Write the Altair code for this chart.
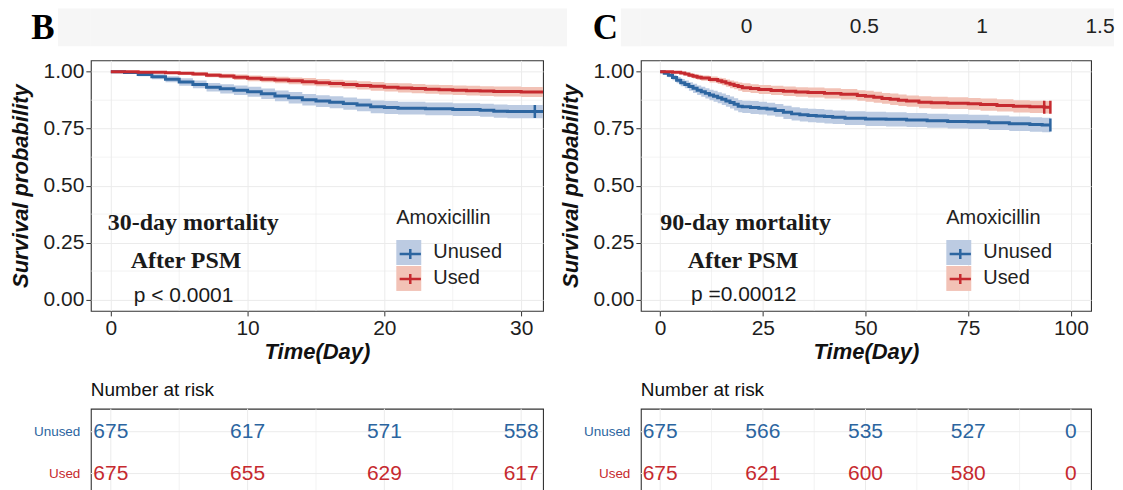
import altair as alt
import pandas as pd

SANS = "Liberation Sans"
SERIF = "Liberation Serif"
GRID = "#ebebeb"
BORDER = "#333333"
STRIP = "#f6f6f6"
TXT = "#1e1e1e"

# ---------------- data ----------------
groups = ["Unused", "Used"]
line_colors = ["#2c65a0", "#c62a2f"]
band_colors = ["#bccbe2", "#f2c2b6"]
panel_letters = ["B", "C"]
strip_tick_values = [0, 0.5, 1, 1.5]
strip_tick_labels = ["0", "0.5", "1", "1.5"]
surv_ticks = [0, 0.25, 0.5, 0.75, 1.0]
surv_minor = [0.125, 0.375, 0.625, 0.875]

# Panel B : 30-day mortality
b_time_ticks = [0, 10, 20, 30]
b_time_minor = [5, 15, 25]
b_unused_time = [0, 1, 2, 3, 4, 5, 6, 7, 8, 9, 10, 11, 12, 13, 14, 15, 16, 17, 18, 19,
                 20, 21, 23, 25, 27, 28, 29, 31.6]
b_unused_surv = [1.000, 0.997, 0.988, 0.978, 0.967, 0.955, 0.944, 0.932, 0.925, 0.919,
                 0.912, 0.903, 0.894, 0.886, 0.877, 0.871, 0.866, 0.860, 0.854, 0.846,
                 0.843, 0.840, 0.837, 0.834, 0.831, 0.827, 0.825, 0.825]
b_unused_ci = [0.000, 0.004, 0.008, 0.011, 0.013, 0.016, 0.017, 0.019, 0.020, 0.021,
               0.022, 0.023, 0.024, 0.025, 0.025, 0.026, 0.026, 0.027, 0.027, 0.028,
               0.028, 0.028, 0.028, 0.028, 0.029, 0.029, 0.029, 0.029]
b_used_time = [0, 2, 4, 5, 6, 7, 8, 9, 10, 11, 12, 13, 14, 15, 16, 17, 18, 19, 20, 21,
               22, 23, 24, 25, 26, 27, 28, 30, 31.6]
b_used_surv = [1.000, 0.998, 0.996, 0.993, 0.990, 0.985, 0.981, 0.976, 0.971, 0.967,
               0.964, 0.960, 0.956, 0.952, 0.948, 0.944, 0.940, 0.936, 0.932, 0.929,
               0.926, 0.923, 0.921, 0.919, 0.917, 0.915, 0.913, 0.911, 0.911]
b_used_ci = [0.000, 0.003, 0.005, 0.006, 0.008, 0.009, 0.010, 0.012, 0.013, 0.013,
             0.014, 0.015, 0.016, 0.016, 0.017, 0.018, 0.018, 0.019, 0.019, 0.020,
             0.020, 0.020, 0.021, 0.021, 0.021, 0.021, 0.022, 0.022, 0.022]
b_censor_time = [31]
b_censor_surv = [0.825]
b_censor_group = ["Unused"]
b_risk_times = [0, 10, 20, 30]
b_risk_unused = [675, 617, 571, 558]
b_risk_used = [675, 655, 629, 617]
b_note_text = ["30-day mortality", "After PSM"]
b_note_time = [-0.22, 1.46]
b_note_surv = [0.337, 0.171]
b_p_text = ["p < 0.0001"]
b_p_time = [1.68]
b_p_surv = [0.015]

# Panel C : 90-day mortality
c_time_ticks = [0, 25, 50, 75, 100]
c_time_minor = [12.5, 37.5, 62.5, 87.5]
c_unused_time = [0, 1, 2, 3, 4, 5, 6, 7, 8, 9, 10, 11, 12, 13, 14, 15, 16, 17, 18, 19, 20,
                 22, 24, 26, 28, 30, 32, 34, 36, 38, 40, 42,
                 45, 50, 55, 60, 65, 70, 75, 80, 85, 90, 93, 95]
c_unused_surv = [1.000, 0.993, 0.985, 0.975, 0.963, 0.952, 0.944, 0.935, 0.927, 0.919, 0.912,
                 0.905, 0.898, 0.892, 0.886, 0.879, 0.872, 0.865, 0.857, 0.849, 0.846,
                 0.843, 0.840, 0.836, 0.830, 0.822, 0.815, 0.811, 0.808, 0.806, 0.803, 0.800,
                 0.796, 0.793, 0.791, 0.788, 0.785, 0.782, 0.780, 0.776, 0.772, 0.768, 0.766, 0.766]
c_unused_ci = [0.000, 0.006, 0.009, 0.012, 0.014, 0.016, 0.017, 0.019, 0.020, 0.021, 0.022,
               0.022, 0.023, 0.024, 0.024, 0.025, 0.026, 0.026, 0.027, 0.027, 0.027,
               0.028, 0.028, 0.028, 0.028, 0.029, 0.029, 0.029, 0.030, 0.030, 0.030, 0.030,
               0.030, 0.031, 0.031, 0.031, 0.031, 0.031, 0.031, 0.032, 0.032, 0.032, 0.032, 0.032]
c_used_time = [0, 3, 5, 6, 7, 8, 9, 10, 12, 14, 15, 16, 17, 18, 19, 20, 22, 24, 27, 30,
               33, 36, 40, 44, 48, 50, 52, 54, 56, 58, 60, 63, 66, 70, 75, 78, 82, 86, 90, 93.5, 95]
c_used_surv = [1.000, 0.998, 0.994, 0.990, 0.985, 0.980, 0.976, 0.972, 0.966, 0.960,
               0.956, 0.950, 0.945, 0.940, 0.935, 0.930, 0.926, 0.922, 0.918, 0.914,
               0.911, 0.909, 0.905, 0.901, 0.896, 0.892, 0.888, 0.883, 0.879, 0.875,
               0.871, 0.866, 0.864, 0.862, 0.859, 0.856, 0.852, 0.848, 0.846, 0.844, 0.844]
c_used_ci = [0.000, 0.003, 0.005, 0.007, 0.009, 0.010, 0.011, 0.012, 0.013, 0.014,
             0.015, 0.016, 0.017, 0.017, 0.018, 0.019, 0.019, 0.020, 0.020, 0.021,
             0.021, 0.022, 0.022, 0.023, 0.023, 0.024, 0.024, 0.024, 0.025, 0.025,
             0.025, 0.026, 0.026, 0.026, 0.026, 0.027, 0.027, 0.027, 0.027, 0.027, 0.027]
c_censor_time = [95, 93.5, 95]
c_censor_surv = [0.766, 0.844, 0.844]
c_censor_group = ["Unused", "Used", "Used"]
c_risk_times = [0, 25, 50, 75, 100]
c_risk_unused = [675, 566, 535, 527, 0]
c_risk_used = [675, 621, 600, 580, 0]
c_note_text = ["90-day mortality", "After PSM"]
c_note_time = [0.0, 6.7]
c_note_surv = [0.337, 0.171]
c_p_text = ["p =0.00012"]
c_p_time = [7.5]
c_p_surv = [0.02]

# layout constants
B_DOMAIN = [-1.46, 31.6]
C_DOMAIN = [-4.7, 104.9]
STRIP_DOMAIN = [1.4619, 1.5593]   # scale of the narrow last strip cell (ticks drawn leftwards)
Y_DOMAIN = [-0.05, 1.05]
COLS = [49, 33, 453, 24, 54, 20, 451, 23]
KM_H, TAB_H, STRIP_H, GAP1, GAP2 = 251, 88, 38, 14, 98


def curve_frame(time, surv, ci, group):
    return pd.DataFrame({
        "time": time,
        "surv": surv,
        "lo": [s - h for s, h in zip(surv, ci)],
        "hi": [min(1.0, s + h) for s, h in zip(surv, ci)],
        "Group": group,
        "Band": group,
    })


def legend(visible, symbol):
    col = "#222222" if visible else "transparent"
    kw = dict(
        title="Amoxicillin", orient="none", legendX=306, legendY=148,
        symbolSize=625, titleFont=SANS, titleFontSize=20, titleFontWeight="normal",
        titleColor=col, labelFont=SANS, labelFontSize=20, labelColor=col,
        labelOffset=12, rowPadding=1, titlePadding=12, padding=0, symbolOpacity=1,
        symbolType=symbol,
    )
    if visible:
        kw.update(symbolStrokeWidth=0)
    else:
        kw.update(symbolStrokeWidth=2.5, symbolFillColor="transparent", labelExpr="''")
    return alt.Legend(**kw)


def km_panel(curves, censor, xdom, xticks, xminor, notes, pval, width):
    xscale = alt.Scale(domain=xdom, nice=False, zero=False)
    yscale = alt.Scale(domain=Y_DOMAIN, nice=False, zero=False)
    xaxis = alt.Axis(values=xticks, format="d", title="Time(Day)", titleFont=SANS,
                     titleFontSize=22, titleFontWeight="bold", titleFontStyle="italic",
                     titleColor="#111111", titlePadding=3, labelFont=SANS, labelFontSize=21,
                     labelColor=TXT, labelPadding=2, tickSize=5, tickColor=BORDER,
                     domain=False, grid=True, gridColor=GRID, gridWidth=1.0,
                     labelFlush=False, labelOverlap=False)
    yaxis = alt.Axis(values=surv_ticks, format=".2f", title="Survival probability",
                     titleFont=SANS, titleFontSize=22, titleFontWeight="bold",
                     titleFontStyle="italic", titleColor="#111111", titlePadding=11,
                     labelFont=SANS, labelFontSize=21, labelColor=TXT, labelPadding=2,
                     tickSize=5, tickColor=BORDER, domain=False, grid=True,
                     gridColor=GRID, gridWidth=1.0, labelFlush=False, labelOverlap=False)
    X = alt.X("time:Q", scale=xscale, axis=xaxis)
    Y = alt.Y("surv:Q", scale=yscale, axis=yaxis)
    stroke_scale = alt.Scale(domain=groups, range=line_colors)
    line_leg = legend(False, "M-0.85,0H0.85M0,-0.4V0.4")

    minor_x = alt.Chart(pd.DataFrame({"time": xminor})).mark_rule(
        color=GRID, strokeWidth=0.6).encode(x=X)
    minor_y = alt.Chart(pd.DataFrame({"surv": surv_minor})).mark_rule(
        color=GRID, strokeWidth=0.6).encode(y=Y)
    band = alt.Chart(curves).mark_area(interpolate="step-after", clip=True).encode(
        x=X,
        y=alt.Y("lo:Q", scale=yscale, axis=yaxis),
        y2="hi:Q",
        fill=alt.Fill("Band:N", scale=alt.Scale(range=band_colors),
                      legend=legend(True, "square")),
    )
    line = alt.Chart(curves).mark_line(interpolate="step-after", strokeWidth=3,
                                       clip=True).encode(
        x=X, y=Y, stroke=alt.Stroke("Group:N", scale=stroke_scale, legend=line_leg))
    cens = alt.Chart(censor).mark_point(shape="M0,-1V1", size=169, strokeWidth=2.5,
                                        filled=False, opacity=1, clip=True).encode(
        x=X, y=Y, stroke=alt.Stroke("Group:N", scale=stroke_scale, legend=line_leg))
    note = alt.Chart(notes).mark_text(align="left", baseline="middle", font=SERIF,
                                      fontWeight="bold", fontSize=24, color="#1a1a1a").encode(
        x=X, y=Y, text="label:N")
    pv = alt.Chart(pval).mark_text(align="left", baseline="middle", font=SANS,
                                   fontSize=21, color="#1a1a1a").encode(
        x=X, y=Y, text="label:N")
    return alt.layer(minor_x, minor_y, band, line, cens, note, pv).properties(
        width=width, height=KM_H,
        view=alt.ViewBackground(stroke=BORDER, strokeWidth=1.1, fill="white"))


def risk_panel(times, unused, used, xdom, xticks, xminor, width):
    df = pd.DataFrame({
        "time": list(times) + list(times),
        "Group": [groups[0]] * len(times) + [groups[1]] * len(times),
        "n": list(unused) + list(used),
    })
    X = alt.X("time:Q", scale=alt.Scale(domain=xdom, nice=False, zero=False), axis=None)
    Yg = alt.Y("Group:N", scale=alt.Scale(domain=groups, paddingOuter=0.05, paddingInner=0),
               axis=alt.Axis(title=None, ticks=False, domain=False, grid=False,
                             labelFont=SANS, labelFontSize=13.5, labelPadding=11,
                             labelColor=alt.condition("datum.value == 'Unused'",
                                                      alt.value(line_colors[0]),
                                                      alt.value(line_colors[1]))))
    vmaj = alt.Chart(pd.DataFrame({"time": xticks})).mark_rule(
        color=GRID, strokeWidth=1.0).encode(x=X)
    vmin = alt.Chart(pd.DataFrame({"time": xminor})).mark_rule(
        color=GRID, strokeWidth=0.6).encode(x=X)
    hgrid = alt.Chart(pd.DataFrame({"Group": groups})).mark_rule(
        color=GRID, strokeWidth=1.0).encode(y=Yg)
    nums = alt.Chart(df).mark_text(font=SANS, fontSize=21, align="center",
                                   baseline="middle").encode(
        x=X, y=Yg, text="n:Q",
        color=alt.Color("Group:N", scale=alt.Scale(domain=groups, range=line_colors),
                        legend=None))
    return alt.layer(vmaj, vmin, hgrid, nums).properties(
        width=width, height=TAB_H,
        title=alt.TitleParams("Number at risk", anchor="start", frame="group",
                              font=SANS, fontSize=19, fontWeight="normal",
                              color="#111111", offset=8),
        view=alt.ViewBackground(stroke=BORDER, strokeWidth=1.1, fill="white"))


dummy = pd.DataFrame({"v": [0]})


def spacer(w, h, fill=None):
    view = alt.ViewBackground(fill=fill, strokeWidth=0) if fill else alt.ViewBackground(strokeWidth=0)
    return alt.Chart(dummy).mark_point(opacity=0, size=1).encode(
        x=alt.value(3), y=alt.value(3)).properties(width=w, height=h, view=view)


def letter(ch, w, dx):
    return alt.Chart(pd.DataFrame({"letter": [ch]})).mark_text(
        font=SERIF, fontWeight="bold", fontSize=35, color="#000000",
        dx=dx, dy=1, baseline="middle").encode(text="letter:N").properties(
        width=w, height=STRIP_H, view=alt.ViewBackground(strokeWidth=0))


strip_ticks = alt.Chart(pd.DataFrame({"v": strip_tick_values, "lab": strip_tick_labels})).mark_text(
    font=SANS, fontSize=21, color="#222222", baseline="middle").encode(
    x=alt.X("v:Q", scale=alt.Scale(domain=STRIP_DOMAIN, nice=False, zero=False), axis=None),
    text="lab:N").properties(width=COLS[7], height=STRIP_H,
                             view=alt.ViewBackground(fill=STRIP, strokeWidth=0))

curves_b = pd.concat([curve_frame(b_unused_time, b_unused_surv, b_unused_ci, groups[0]),
                      curve_frame(b_used_time, b_used_surv, b_used_ci, groups[1])])
curves_c = pd.concat([curve_frame(c_unused_time, c_unused_surv, c_unused_ci, groups[0]),
                      curve_frame(c_used_time, c_used_surv, c_used_ci, groups[1])])
censor_b = pd.DataFrame({"time": b_censor_time, "surv": b_censor_surv, "Group": b_censor_group})
censor_c = pd.DataFrame({"time": c_censor_time, "surv": c_censor_surv, "Group": c_censor_group})
notes_b = pd.DataFrame({"time": b_note_time, "surv": b_note_surv, "label": b_note_text})
notes_c = pd.DataFrame({"time": c_note_time, "surv": c_note_surv, "label": c_note_text})
p_b = pd.DataFrame({"time": b_p_time, "surv": b_p_surv, "label": b_p_text})
p_c = pd.DataFrame({"time": c_p_time, "surv": c_p_surv, "label": c_p_text})

km_b = km_panel(curves_b, censor_b, B_DOMAIN, b_time_ticks, b_time_minor, notes_b, p_b, COLS[2])
km_c = km_panel(curves_c, censor_c, C_DOMAIN, c_time_ticks, c_time_minor, notes_c, p_c, COLS[6])
tab_b = risk_panel(b_risk_times, b_risk_unused, b_risk_used, B_DOMAIN, b_time_ticks,
                   b_time_minor, COLS[2])
tab_c = risk_panel(c_risk_times, c_risk_unused, c_risk_used, C_DOMAIN, c_time_ticks,
                   c_time_minor, COLS[6])


def gap_row(h):
    return [spacer(w, h) for w in COLS]


row1 = [letter(panel_letters[0], COLS[0], 9.5), spacer(COLS[1], STRIP_H, STRIP),
        spacer(COLS[2], STRIP_H, STRIP), spacer(COLS[3], STRIP_H, STRIP),
        letter(panel_letters[1], COLS[4], 11.5), spacer(COLS[5], STRIP_H, STRIP),
        spacer(COLS[6], STRIP_H, STRIP), strip_ticks]
row3 = [spacer(COLS[0], KM_H), spacer(COLS[1], KM_H), km_b, spacer(COLS[3], KM_H),
        spacer(COLS[4], KM_H), spacer(COLS[5], KM_H), km_c, spacer(COLS[7], KM_H)]
row5 = [spacer(COLS[0], TAB_H), spacer(COLS[1], TAB_H), tab_b, spacer(COLS[3], TAB_H),
        spacer(COLS[4], TAB_H), spacer(COLS[5], TAB_H), tab_c, spacer(COLS[7], TAB_H)]
cells = row1 + gap_row(GAP1) + row3 + gap_row(GAP2) + row5

RES = dict(fill="independent", stroke="independent", color="independent")
chart = alt.concat(*cells, columns=len(COLS), align="each", bounds="flush", spacing=0,
                   padding=0, background="white")
chart = chart.resolve_scale(**RES).resolve_legend(**RES).configure_view(strokeWidth=0)

chart.save("out.html", embed_options={"renderer": "svg", "actions": False})
